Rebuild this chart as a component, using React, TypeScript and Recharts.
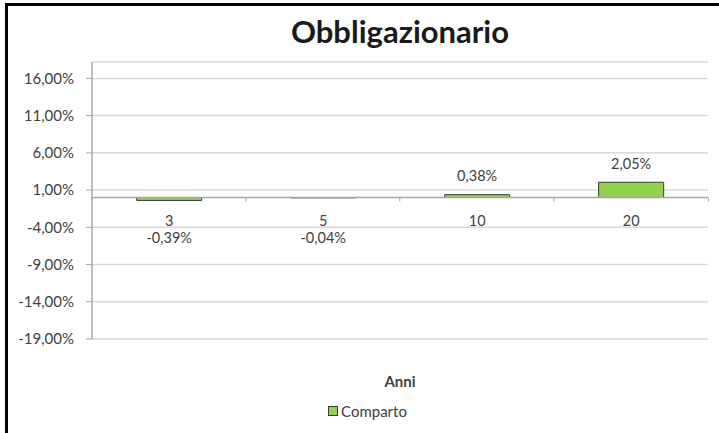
import React from 'react';
import { ComposedChart, Bar, XAxis, YAxis, CartesianGrid, ReferenceLine, LabelList, Legend } from 'recharts';

const categories = ['3', '5', '10', '20'];
const compartoValues = [-0.39, -0.04, 0.38, 2.05];
const yTicks = [16, 11, 6, 1, -4, -9, -14, -19];
const seriesName = 'Comparto';
const chartTitle = 'Obbligazionario';
const xAxisTitle = 'Anni';

const data = categories.map((c, i) => ({ anno: c, value: compartoValues[i] }));

const FONT = 'Lato, "Open Sans", sans-serif';
const GAP = 0.29;
const fmt = (v: number) => v.toFixed(2).replace('.', ',') + '%';

const geom = (props: any) => {
  const x = props.x ?? props.viewBox?.x;
  const y = props.y ?? props.viewBox?.y;
  const w = props.width ?? props.viewBox?.width;
  const h = props.height ?? props.viewBox?.height;
  const top = Math.min(y, y + h);
  const bottom = Math.max(y, y + h);
  return { x, w, top, bottom };
};

const ValueLabel = (props: any) => {
  const { x, w, top, bottom } = geom(props);
  const v = Number(props.value);
  const cy = v >= 0 ? top - 19 : top + 40;
  return (
    <text x={x + w / 2} y={cy} textAnchor="middle" dominantBaseline="central" fontSize={14.5} fill="#404040" fontFamily={FONT}>
      {fmt(v)}
    </text>
  );
};

const CatLabel = (props: any) => {
  const { x, w, top, bottom } = geom(props);
  const idx = props.index;
  const v = compartoValues[idx];
  const zeroY = v >= 0 ? bottom : top;
  const band = w / (1 - 2 * GAP);
  const cx = x + w / 2;
  return (
    <g>
      <line x1={cx - band / 2} x2={cx - band / 2} y1={zeroY} y2={zeroY + 4} stroke="#a6a6a6" strokeWidth={1} />
      {idx === categories.length - 1 && (
        <line x1={cx + band / 2} x2={cx + band / 2} y1={zeroY} y2={zeroY + 4} stroke="#a6a6a6" strokeWidth={1} />
      )}
      <text x={cx} y={zeroY + 23} textAnchor="middle" dominantBaseline="central" fontSize={14.5} fill="#404040" fontFamily={FONT}>
        {props.value}
      </text>
    </g>
  );
};

const LegendContent = () => (
  <div style={{ position: 'relative', width: 719, height: 80, fontFamily: FONT }}>
    <div style={{ position: 'absolute', left: 92, width: 616, top: 32, textAlign: 'center', fontWeight: 700, fontSize: 15, color: '#404040', lineHeight: '20px' }}>
      {xAxisTitle}
    </div>
    <div style={{ position: 'absolute', left: 0, width: 735, top: 62, display: 'flex', justifyContent: 'center', alignItems: 'center', fontSize: 15, color: '#404040', lineHeight: '20px' }}>
      <span style={{ display: 'inline-block', width: 8, height: 8, background: '#92D050', border: '1px solid #3a3a3a', marginRight: 3 }} />
      <span>{seriesName}</span>
    </div>
  </div>
);

export default function App() {
  return (
    <div style={{ position: 'absolute', left: 0, top: 0, width: 719, height: 433, background: '#fff' }}>
      <div style={{ position: 'absolute', left: 5, top: 3, width: 714, height: 430, borderTop: '3px solid #000', borderLeft: '3px solid #000', boxSizing: 'border-box' }} />
      <div style={{ position: 'absolute', left: 92, width: 616, top: 13, textAlign: 'center', fontFamily: FONT, fontWeight: 700, fontSize: 31, color: '#1a1a1a', lineHeight: '36px' }}>
        {chartTitle}
      </div>
      <div style={{ position: 'absolute', left: 0, top: 0 }}>
        <ComposedChart width={719} height={433} data={data} margin={{ top: 62, right: 11, bottom: 14, left: 0 }} barCategoryGap={`${GAP * 100}%`}>
          <CartesianGrid vertical={false} stroke="#d9d9d9" strokeWidth={1.5} />
          <XAxis dataKey="anno" hide />
          <YAxis
            domain={[-19, 18.2]}
            ticks={yTicks}
            width={92}
            tickFormatter={fmt}
            tick={{ fontSize: 15, fill: '#404040', fontFamily: FONT }}
            tickMargin={12}
            tickSize={6}
            axisLine={{ stroke: '#a6a6a6', strokeWidth: 1.5 }}
            tickLine={{ stroke: '#a6a6a6' }}
            interval={0}
          />
          <Bar dataKey="value" name={seriesName} fill="#92D050" stroke="#3a3a3a" strokeWidth={1} isAnimationActive={false}>
            <LabelList dataKey="value" content={ValueLabel} />
            <LabelList dataKey="anno" content={CatLabel} />
          </Bar>
          <ReferenceLine y={0} stroke="#a6a6a6" strokeWidth={1.5} />
          <Legend verticalAlign="bottom" height={80} wrapperStyle={{ left: 0, width: 719 }} content={LegendContent} />
        </ComposedChart>
      </div>
    </div>
  );
}
